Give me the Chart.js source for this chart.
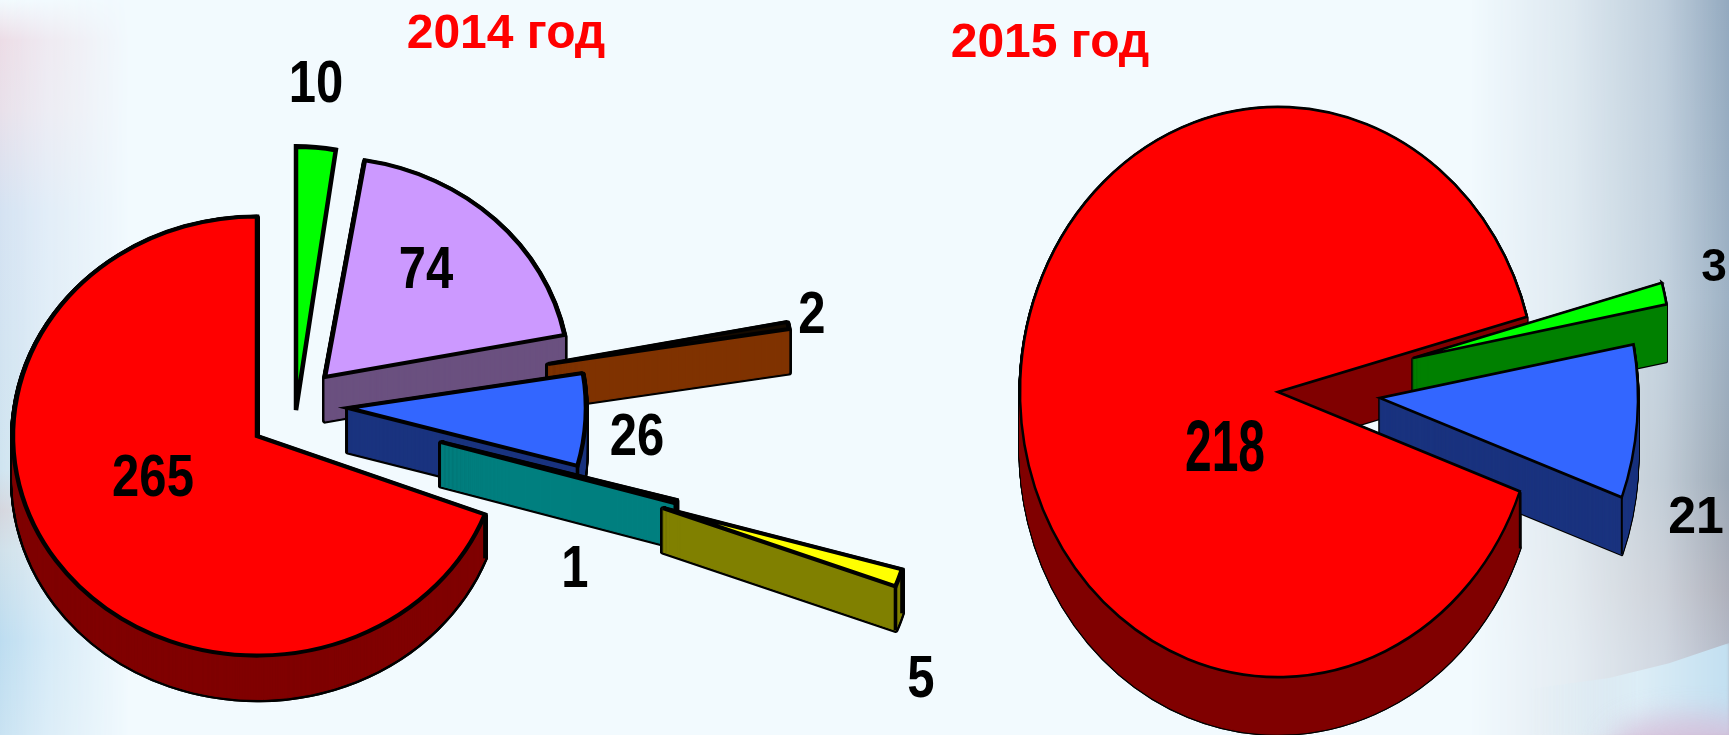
<!DOCTYPE html>
<html>
<head>
<meta charset="utf-8">
<title>2014 год / 2015 год</title>
<script src="https://cdn.jsdelivr.net/npm/chart.js@4"></script>
<style>
  html, body { margin: 0; padding: 0; width: 1729px; height: 735px; overflow: hidden; background: #f2fafe; }
  #page { position: relative; width: 1729px; height: 735px; overflow: hidden; }
  #page div.bg { position: absolute; }
  #bgLeft { left: 0; top: 0; width: 130px; height: 735px;
    background: linear-gradient(to bottom, #f2fafe 0, #ecdce6 40px, #e8e0ea 110px, #d4e2f2 210px, #cfe4f0 470px, #d4d6de 510px, #cfe0ea 550px, #bcdcf0 640px, #c8e2f2 735px);
    -webkit-mask-image: linear-gradient(to right, black, rgba(0,0,0,0.55) 35%, transparent);
    mask-image: linear-gradient(to right, black, rgba(0,0,0,0.55) 35%, transparent); }
  #bgRight { right: 0; top: 0; width: 260px; height: 735px;
    background: linear-gradient(to bottom, #93a9bf 0, #9db1c4 300px, #9ba8b6 480px, #aeb0bb 590px, #b4bac8 660px, #b4bac8 735px);
    -webkit-mask-image: linear-gradient(to right, transparent, rgba(0,0,0,0.22) 40%, rgba(0,0,0,0.55) 75%, black);
    mask-image: linear-gradient(to right, transparent, rgba(0,0,0,0.22) 40%, rgba(0,0,0,0.55) 75%, black); }
  #bgSweep { right: 0; bottom: 0; width: 200px; height: 92px;
    background: linear-gradient(to right, rgba(200,226,242,0), #dcedf6 55%, #c2dff0 100%);
    clip-path: polygon(100% 0, 70% 22%, 40% 38%, 0 50%, 0 100%, 100% 100%); filter: blur(1.5px); }
  #bgPink { right: -50px; bottom: -40px; width: 170px; height: 60px; border-radius: 50%;
    background: #d6bcd8; opacity: 0.8; filter: blur(14px); }
  canvas { position: absolute; left: 0; top: 0; }
</style>
</head>
<body>
<div id="page">
  <div class="bg" id="bgLeft"></div>
  <div class="bg" id="bgRight"></div>
  <div class="bg" id="bgSweep"></div>
  <div class="bg" id="bgPink"></div>
  <canvas id="chart2014" width="1729" height="735"></canvas>
  <canvas id="chart2015" width="1729" height="735"></canvas>
</div>
<script>
// Data
const categories2014 = ["a", "b", "c", "d", "e", "f", "g"];
const values2014 = [10, 74, 2, 26, 1, 5, 265];
const categories2015 = ["a", "b", "c"];
const values2015 = [3, 21, 218];
const title2014 = "2014 год";
const title2015 = "2015 год";

// Slice colours
const topColors2014 = ["#00ff00", "#cc99ff", "#140a00", "#3366ff", "#000000", "#ffff00", "#ff0000"];
const sideColors2014 = ["#008000", "#6a5080", "#803300", "#1a337f", "#008080", "#808000", "#800000"];
const topColors2015 = ["#00ff00", "#3366ff", "#ff0000"];
const sideColors2015 = ["#008000", "#1a337f", "#800000"];

const FONT = '"Liberation Sans", Arial, sans-serif';

// Draws the pie "3D": explode each slice, squash it, extrude a side wall
const pie3d = {
  id: "pie3d",
  beforeDatasetDraw(chart, args, opts) {
    const ctx = chart.ctx;
    const arcs = chart.getDatasetMeta(0).data;
    const cx = arcs[0].x;
    const cy = arcs[0].y;

    function place(i, down) {
      const p = opts.pieces[i];
      ctx.translate(cx + p[0], cy + p[1] + down);
      ctx.scale(opts.scaleX * p[2], opts.scaleY * p[3]);
      ctx.translate(-cx, -cy);
    }

    function drawCopy(i, down, fill, line, width, join) {
      const el = Object.create(arcs[i]);
      el.options = Object.assign({}, arcs[i].options, {
        backgroundColor: fill,
        borderColor: line,
        borderWidth: width,
        borderJoinStyle: join,
        borderAlign: "center",
        offset: 0
      });
      ctx.save();
      place(i, down);
      el.draw(ctx);
      ctx.restore();
    }

    function drawSide(i) {
      const depth = opts.pieces[i][4];
      if (!depth) return;
      for (let d = depth; d >= 1; d--) drawCopy(i, d, "#000", "#000", opts.line * 1.3, "round");
      for (let d = depth; d >= 1; d--) drawCopy(i, d, opts.side[i], opts.side[i], 1, "round");
    }

    function drawRidges(i) {
      const a = arcs[i];
      const p = opts.pieces[i];
      if (!p[4]) return;
      ctx.save();
      ctx.strokeStyle = "#000";
      ctx.lineWidth = opts.line * 0.8;
      [a.startAngle, a.endAngle].forEach(function (ang) {
        if (Math.sin(ang) <= 0) return;
        const x = cx + p[0] + Math.cos(ang) * a.outerRadius * opts.scaleX * p[2];
        const y = cy + p[1] + Math.sin(ang) * a.outerRadius * opts.scaleY * p[3];
        ctx.beginPath();
        ctx.moveTo(x, y);
        ctx.lineTo(x, y + p[4]);
        ctx.stroke();
      });
      ctx.restore();
    }

    const last = arcs.length - 1;
    // biggest slice wall goes first so the small slices sit in its notch
    drawSide(last);
    for (let i = 0; i < last; i++) {
      drawSide(i);
      drawCopy(i, 0, opts.top[i], "#000", opts.line, "miter");
      drawRidges(i);
    }
    // then the biggest slice again, leaving the notch alone
    ctx.save();
    ctx.beginPath();
    ctx.rect(0, 0, chart.width, chart.height);
    const a = arcs[last];
    const far = 3000;
    ctx.moveTo(cx, cy);
    ctx.lineTo(cx + Math.cos(a.endAngle) * opts.scaleX * far, cy + Math.sin(a.endAngle) * opts.scaleY * far);
    ctx.lineTo(cx + Math.cos(a.startAngle) * opts.scaleX * far, cy + Math.sin(a.startAngle) * opts.scaleY * far);
    ctx.closePath();
    ctx.clip("evenodd");
    drawSide(last);
    ctx.restore();
    drawCopy(last, 0, opts.top[last], "#000", opts.line, "miter");
    drawRidges(last);
    return false;
  },
  afterDraw(chart, args, opts) {
    const ctx = chart.ctx;
    const values = chart.data.datasets[0].data;
    ctx.save();
    ctx.textAlign = "center";
    ctx.textBaseline = "middle";
    ctx.fillStyle = "#000";
    values.forEach(function (v, i) {
      const l = opts.labels[i];
      ctx.save();
      ctx.translate(l[0], l[1]);
      ctx.scale(1, l[3]);
      ctx.font = "bold " + l[2] + "px " + FONT;
      ctx.fillText(String(v), 0, 0);
      ctx.restore();
    });
    ctx.fillStyle = "#ff0000";
    ctx.font = "bold 48px " + FONT;
    ctx.fillText(opts.title, opts.titleX, opts.titleY);
    ctx.restore();
  }
};

function makeChart(id, labels, values, rotation, radius, padding, pluginOpts) {
  return new Chart(document.getElementById(id).getContext("2d"), {
    type: "pie",
    data: {
      labels: labels,
      datasets: [{ data: values, backgroundColor: pluginOpts.top, borderColor: "#000", radius: radius }]
    },
    options: {
      responsive: false,
      animation: false,
      rotation: rotation,
      layout: { padding: padding },
      plugins: { legend: { display: false }, tooltip: { enabled: false }, pie3d: pluginOpts }
    },
    plugins: [pie3d]
  });
}

makeChart("chart2014", categories2014, values2014, 0, 244, { right: 1215, top: 137 }, {
  top: topColors2014,
  side: sideColors2014,
  scaleX: 1,
  scaleY: 0.9,
  line: 4.5,
  // dx, dy, x squeeze, y squeeze, wall depth of each exploded slice
  pieces: [[39, -26, 1, 1.2, 0], [68, -59, 1, 1, 44], [291, -72, 1, 1, 44], [91, -28, 0.975, 1, 44], [184, 6, 1, 1, 44], [406, 72, 1.02, 1, 44], [0, 0, 1, 1, 44]],
  // x, y, font size, y stretch
  labels: [[316, 86, 49, 1.2], [426, 272, 49, 1.2], [812, 317, 49, 1.2], [637, 439, 49, 1.2], [575, 571, 49, 1.2], [921, 681, 49, 1.2], [153, 480, 49, 1.2]],
  title: title2014,
  titleX: 506,
  titleY: 35
});

makeChart("chart2015", categories2015, values2015, 74.7, 258, { left: 827, top: 49 }, {
  top: topColors2015,
  side: sideColors2015,
  scaleX: 1,
  scaleY: 1.105,
  line: 2.5,
  pieces: [[135, -34, 1, 1, 57], [102, 6, 1, 1, 57], [0, 0, 1, 1, 57]],
  labels: [[1714, 268, 46, 1.02], [1696, 519, 50, 1.02], [1225, 451, 48, 1.5]],
  title: title2015,
  titleX: 1050,
  titleY: 44
});
</script>
</body>
</html>
